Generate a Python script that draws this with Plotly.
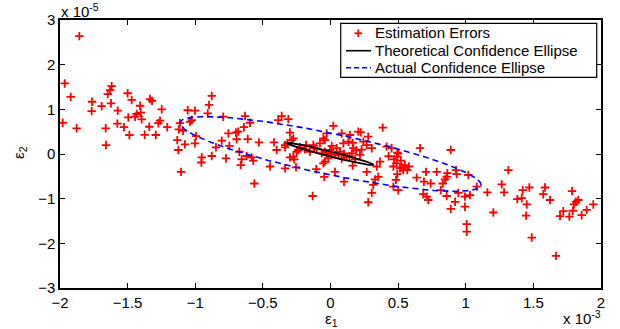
import numpy as np
import plotly.graph_objects as go

# Estimation errors: eps1 in units of 1e-3, eps2 in units of 1e-5
err_x = [
    -1.857, -1.965, -1.921, -1.980, -1.877, -1.618, -1.630, -1.647, -1.623, -1.763,
    -1.766, -1.692, -1.573, -1.500, -1.470, -1.408, -1.495, -1.433, -1.445, -1.396,
    -1.403, -1.335, -1.320, -1.248, -1.260, -1.273, -1.340, -1.207, -1.662, -1.576,
    -1.527, -1.487, -1.374, -1.292, -1.660, -1.133, -1.076, -1.125, -1.105, -1.122,
    -1.090, -1.113, -1.039, -1.056, -1.002, -1.026, -1.002, -0.994, -0.955, -0.952,
    -0.878, -0.898, -0.908, -0.878, -0.847, -0.804, -0.793, -0.773, -0.755, -0.748,
    -0.699, -0.682, -0.694, -0.674, -0.657, -0.664, -0.632, -0.640, -0.595, -0.612,
    -0.620, -0.583, -0.571, -0.529, -0.447, -0.418, -0.398, -0.386, -0.361, -0.312,
    -0.300, -0.287, -0.336, -0.300, -0.268, -0.336, -0.255, -0.105, -0.563, -0.053,
    -0.046, -0.132,
    -0.275, -0.336, -0.319, -0.238, -0.250, -0.275, -0.225, -0.189, -0.152, -0.127,
    -0.102, -0.078, -0.053, -0.065, -0.041, -0.028, -0.004, 0.009, 0.021, 0.033,
    -0.016, 0.046, 0.070, 0.095, 0.132, 0.144, 0.169, 0.157, 0.181, 0.206,
    0.243, 0.268, 0.279, 0.218, 0.083, 0.120, -0.041, -0.028, 0.083, 0.223,
    0.386, 0.164, 0.305, 0.415, 0.452, 0.494, 0.470, 0.489, 0.465, 0.514,
    0.538, 0.568, 0.494, 0.366, 0.342, 0.268, 0.164, 0.033, -0.041, 0.662,
    0.706, 0.637, 0.785, 0.889, 0.864, 0.100, 0.329, 0.353, 0.316, 0.305,
    0.279, 0.465, 0.484, 0.501, 0.691, 0.741, 0.686, 0.711, 0.723, 0.815,
    0.830, 0.847, 0.859, 0.859, 0.921, 0.889, 0.933, 0.945, 0.928, 1.019,
    1.081, 0.994, 1.031, 0.994, 1.007, 1.007, 1.160, 1.204, 1.266, 1.283,
    1.315, 1.381, 1.414, 1.421, 1.470, 1.451, 1.446, 1.488, 1.573, 1.586,
    1.623, 1.667, 1.697, 1.721, 1.766, 1.791, 1.786, 1.800, 1.815, 1.832,
    1.857, 1.894, 1.943,
    0.500, 0.490, 0.530, 0.550, 0.580, 0.520, 0.430, 0.000, 0.060, 0.100,
    0.190, 0.230, -0.120, -0.180, 0.140,
]
err_y = [
    2.64, 1.58, 1.28, 0.70, 0.575, 1.52, 1.43, 1.34, 1.135, 1.17,
    0.96, 1.07, 0.97, 1.36, 1.21, 1.08, 0.82, 0.895, 0.835, 0.775,
    0.925, 1.23, 1.19, 1.00, 0.745, 0.69, 0.61, 0.60, 0.575, 0.68,
    0.60, 0.425, 0.43, 0.425, 0.20, 0.31, 0.215, 0.09, -0.40, 0.55,
    0.52, 0.69, 0.72, 0.98, 0.97, 0.76, 0.24, 0.40, -0.19, -0.075,
    1.30, 1.10, 0.91, -0.045, 0.15, 0.30, 0.835, -0.10, 0.46, 0.18,
    0.48, 0.50, 0.33, 0.05, -0.12, -0.25, 0.85, 0.60, 0.70, 0.335,
    -0.045, -0.075, -0.15, 0.26, -0.28, 0.26, 0.09, 0.76, 0.85, 0.78,
    0.48, 0.31, 0.15, -0.075, -0.12, -0.32, -0.30, -0.34, -0.66, -0.21,
    -0.51, -0.94,
    0.35, 0.20, 0.24, 0.09, 0.05, -0.06, 0.15, 0.105, 0.05, 0.20,
    0.105, 0.24, 0.35, 0.015, 0.05, -0.02, 0.09, 0.18, 0.63, -0.02,
    -0.10, 0.13, 0.05, 0.24, 0.275, 0.425, 0.13, 0.015, -0.12, 0.50,
    0.275, 0.20, 0.39, -0.02, -0.10, -0.06, 0.31, 0.46, 0.46, 0.485,
    0.59, 0.25, 0.13, 0.165, 0.13, 0.03, -0.12, -0.21, -0.28, -0.32,
    -0.36, -0.36, -0.45, -0.17, -0.28, -0.40, -0.26, -0.40, -0.17, 0.13,
    -0.40, -0.53, -0.40, 0.09, -0.43, -0.62, -0.57, -0.51, -0.69, -0.87,
    -1.08, -0.73, -0.58, -0.81, -0.62, -0.66, -0.90, -0.955, -1.03, -0.81,
    -0.66, -0.57, -0.51, -0.94, -1.07, -1.23, -0.45, -0.87, -0.36, -0.47,
    -0.73, -0.955, -0.92, -1.18, -1.57, -1.74, -0.86, -1.31, -0.68, -0.86,
    -0.36, -1.01, -0.99, -0.81, -0.75, -1.13, -1.38, -1.87, -0.90, -0.75,
    -1.03, -2.28, -1.39, -1.28, -1.40, -1.27, -0.83, -1.13, -1.07, -1.03,
    -1.37, -1.25, -1.13,
    0.01, -0.06, -0.30, -0.25, -0.28, -0.15, -0.05, 0.02, -0.03, 0.00,
    0.08, 0.10, 0.14, 0.20, -0.05,
]

# Confidence ellipse shape matrices (axis units: 1e-3 x 1e-5)
theo_cov = [[0.1024, -0.0784], [-0.0784, 0.0636]]
act_cov = [[1.24, -0.77], [-0.77, 0.70]]

x_ticks = [-2, -1.5, -1, -0.5, 0, 0.5, 1, 1.5, 2]
y_ticks = [-3, -2, -1, 0, 1, 2, 3]

legend_labels = ["Estimation Errors", "Theoretical Confidence Ellipse", "Actual Confidence Ellipse"]


def ellipse(cov, n=241):
    L = np.linalg.cholesky(np.array(cov))
    t = np.linspace(0, 2 * np.pi, n)
    pts = L @ np.vstack([np.cos(t), np.sin(t)])
    return pts[0], pts[1]


FONT = "Liberation Sans, Arial, Helvetica, sans-serif"
W, H = 620, 329
L_, R_, T_, B_ = 60, 601, 20, 288


def pxx(px):
    return (px - L_) / (R_ - L_)


def pxy(py):
    return (B_ - py) / (B_ - T_)


fig = go.Figure()
fig.add_trace(go.Scatter(
    x=err_x, y=err_y, mode="markers", name=legend_labels[0],
    marker=dict(symbol="cross-thin", size=6, color="red", line=dict(color="red", width=1.8)),
    showlegend=False,
))
tx, ty = ellipse(theo_cov)
fig.add_trace(go.Scatter(x=tx, y=ty, mode="lines", name=legend_labels[1],
                         line=dict(color="black", width=1.8), showlegend=False))
ax_, ay_ = ellipse(act_cov)
fig.add_trace(go.Scatter(x=ax_, y=ay_, mode="lines", name=legend_labels[2],
                         line=dict(color="#0000FF", width=1.6, dash="6px,4px"), showlegend=False))

axis_common = dict(
    showgrid=False, zeroline=False, showline=True, linecolor="black", linewidth=1.5,
    ticks="inside", ticklen=5, tickwidth=1, tickcolor="black", mirror="ticks",
    tickfont=dict(family=FONT, size=15, color="black"),
)
fig.update_xaxes(range=[-2, 2], tickvals=x_ticks, **axis_common)
fig.update_yaxes(range=[-3, 3], tickvals=y_ticks, **axis_common)

shapes = []
annotations = []
# legend box
shapes.append(dict(type="rect", xref="paper", yref="paper",
                   x0=pxx(340.7), x1=pxx(596.7), y0=pxy(77.3), y1=pxy(23.3),
                   line=dict(color="black", width=1.2), fillcolor="white", layer="above"))
# legend samples
shapes.append(dict(type="line", xref="paper", yref="paper", x0=pxx(354.5), x1=pxx(362), y0=pxy(33.3), y1=pxy(33.3),
                   line=dict(color="red", width=1.8), layer="above"))
shapes.append(dict(type="line", xref="paper", yref="paper", x0=pxx(358.3), x1=pxx(358.3), y0=pxy(29.5), y1=pxy(37),
                   line=dict(color="red", width=1.8), layer="above"))
shapes.append(dict(type="line", xref="paper", yref="paper", x0=pxx(346), x1=pxx(371), y0=pxy(50.7), y1=pxy(50.7),
                   line=dict(color="black", width=1.6), layer="above"))
shapes.append(dict(type="line", xref="paper", yref="paper", x0=pxx(346), x1=pxx(371), y0=pxy(67.7), y1=pxy(67.7),
                   line=dict(color="#0000FF", width=1.6, dash="5px,3px"), layer="above"))
for lbl, yc in zip(legend_labels, [33.0, 51.0, 67.7]):
    annotations.append(dict(text=lbl, xref="paper", yref="paper", x=pxx(373), y=pxy(yc),
                            xanchor="left", yanchor="middle", showarrow=False,
                            font=dict(family=FONT, size=15, color="black")))

# axis labels and exponents
annotations.append(dict(text="ε<sub>1</sub>", xref="paper", yref="paper", x=pxx(331), y=pxy(319.5),
                        xanchor="center", yanchor="middle", showarrow=False,
                        font=dict(family=FONT, size=15, color="black")))
annotations.append(dict(text="ε<sub>2</sub>", xref="paper", yref="paper", x=pxx(19), y=pxy(153),
                        xanchor="center", yanchor="middle", textangle=-90, showarrow=False,
                        font=dict(family=FONT, size=15, color="black")))
annotations.append(dict(text="x 10<sup>-5</sup>", xref="paper", yref="paper", x=pxx(59), y=pxy(10),
                        xanchor="left", yanchor="middle", showarrow=False,
                        font=dict(family=FONT, size=15, color="black")))
annotations.append(dict(text="x 10<sup>-3</sup>", xref="paper", yref="paper", x=pxx(603), y=pxy(317),
                        xanchor="right", yanchor="middle", showarrow=False,
                        font=dict(family=FONT, size=15, color="black")))

fig.update_layout(
    width=W, height=H,
    margin=dict(l=L_, r=W - R_, t=T_, b=H - B_, pad=0),
    paper_bgcolor="white", plot_bgcolor="white",
    showlegend=False,
    shapes=shapes, annotations=annotations,
    font=dict(family=FONT, size=15, color="black"),
)

fig.write_html("out.html", config={"displayModeBar": False},
               post_script="document.body.style.margin='0';document.body.style.overflow='hidden';")
